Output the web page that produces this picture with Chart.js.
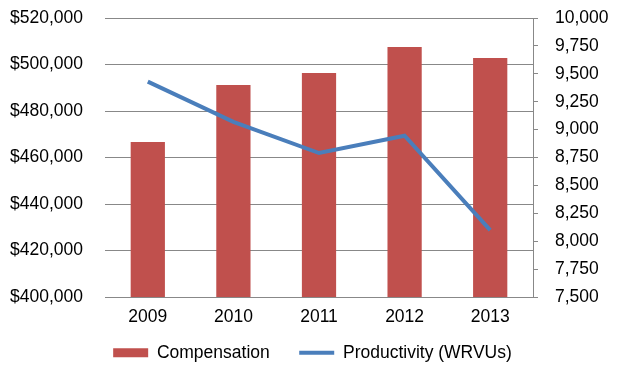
<!DOCTYPE html>
<html>
<head>
<meta charset="utf-8">
<script src="https://cdn.jsdelivr.net/npm/chart.js@4"></script>
<style>
html,body{margin:0;padding:0;background:#fff;}
#wrap{width:625px;height:381px;}
</style>
</head>
<body>
<div id="wrap"><canvas id="c" width="625" height="381"></canvas></div>
<script>
const years = ['2009', '2010', '2011', '2012', '2013'];
const compensation = [466700, 491200, 496300, 507500, 502800];
const productivity = [9430, 9070, 8790, 8945, 8100];
const leftTicks = [400000, 420000, 440000, 460000, 480000, 500000, 520000];
const rightTicks = [7500, 7750, 8000, 8250, 8500, 8750, 9000, 9250, 9500, 9750, 10000];

const FONT = {family: '"Liberation Sans", Arial, sans-serif', size: 17.5};
const GRID = '#888888';

function noVPad(s) { s.paddingTop = 0; s.paddingBottom = 0; }

new Chart(document.getElementById('c'), {
  data: {
    labels: years,
    datasets: [
      {type: 'bar', label: 'Compensation', data: compensation, yAxisID: 'y',
       backgroundColor: '#C0504D', borderWidth: 0, order: 1,
       barPercentage: 0.4, categoryPercentage: 1.0, pointStyle: 'rect'},
      {type: 'line', label: 'Productivity (WRVUs)', data: productivity, yAxisID: 'y1',
       borderColor: '#4A7EBB', backgroundColor: '#4A7EBB', borderWidth: 4,
       pointRadius: 0, tension: 0, order: 0, pointStyle: 'line', borderCapStyle: 'butt'}
    ]
  },
  options: {
    responsive: false,
    animation: false,
    devicePixelRatio: 1,
    layout: {padding: {top: 18, left: 0, right: 0, bottom: 9.5}},
    plugins: {
      tooltip: {enabled: false},
      legend: {
        position: 'bottom',
        labels: {
          color: '#000', font: FONT, usePointStyle: true,
          pointStyleWidth: 35, boxHeight: 9, padding: 10,
          sort: (a, b) => a.datasetIndex - b.datasetIndex,
          generateLabels: chart => {
            const items = Chart.defaults.plugins.legend.labels.generateLabels(chart);
            items.forEach(it => { if (it.datasetIndex === 0) it.text = it.text + '    '; });
            return items;
          }
        }
      }
    },
    scales: {
      x: {
        grid: {display: false, drawTicks: false},
        border: {display: false},
        ticks: {color: '#000', font: FONT, padding: 9.5},
        afterFit: s => { s.height = 37; }
      },
      y: {
        position: 'left', min: 400000, max: 520000,
        afterBuildTicks: s => { s.ticks = leftTicks.map(v => ({value: v})); },
        grid: {color: GRID, lineWidth: 1, drawTicks: false},
        border: {display: false},
        ticks: {color: '#000', font: FONT, padding: 22,
                callback: v => '$' + v.toLocaleString('en-US')},
        afterFit: s => { s.width = 105; noVPad(s); }
      },
      y1: {
        position: 'right', min: 7500, max: 10000,
        afterBuildTicks: s => { s.ticks = rightTicks.map(v => ({value: v})); },
        grid: {drawOnChartArea: false, color: GRID, tickLength: 5, drawTicks: true},
        border: {display: true, color: GRID},
        ticks: {color: '#000', font: FONT, padding: 17,
                callback: v => v.toLocaleString('en-US')},
        afterFit: s => { s.width = 92; noVPad(s); }
      }
    }
  }
});
</script>
</body>
</html>
